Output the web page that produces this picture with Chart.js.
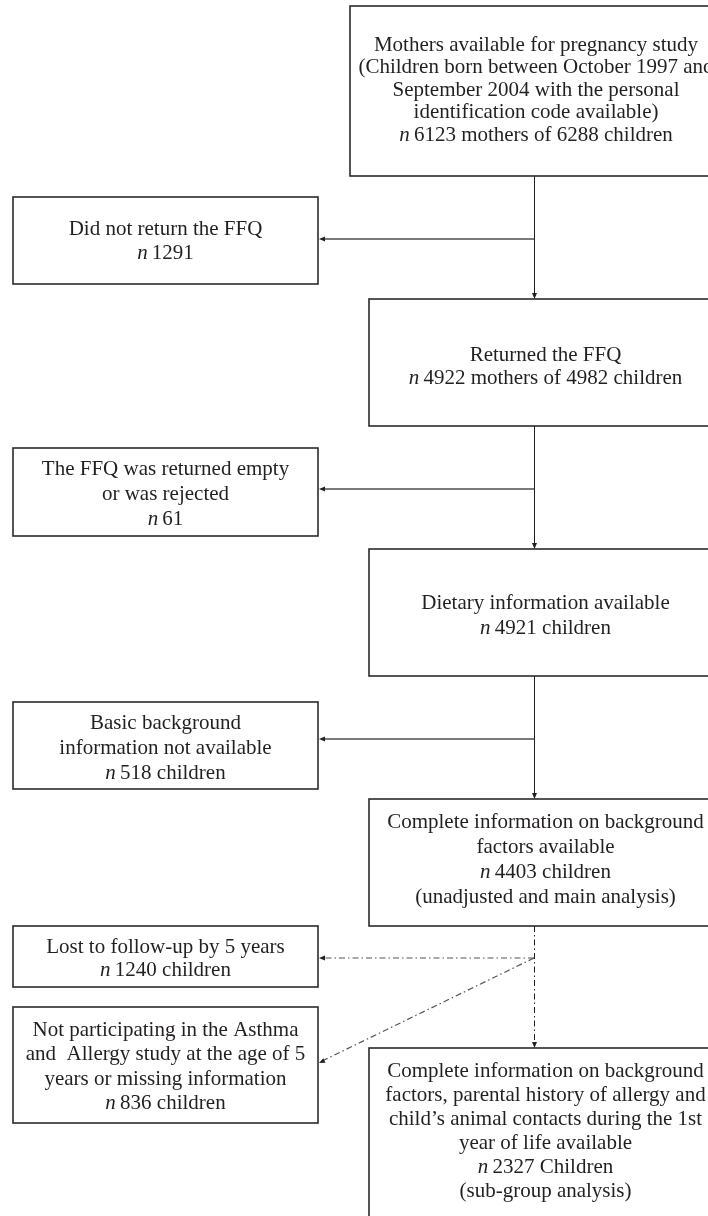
<!DOCTYPE html>
<html>
<head>
<meta charset="utf-8">
<script src="https://cdn.jsdelivr.net/npm/chart.js@4/dist/chart.umd.min.js"></script>
<style>
    html, body { margin: 0; padding: 0; background: #ffffff; }
    #flowChart { display: block; }
</style>
</head>
<body>
<canvas id="flowChart" width="708" height="1216"></canvas>
<script>
// flow steps (main column, top to bottom)
const mainTitles = [
    ['Mothers available for pregnancy study', '(Children born between October 1997 and', 'September 2004 with the personal', 'identification code available)'],
    ['Returned the FFQ'],
    ['Dietary information available'],
    ['Complete information on background', 'factors available'],
    ['Complete information on background', 'factors, parental history of allergy and', 'child\u2019s animal contacts during the 1st', 'year of life available']
];
const mainCounts = ['6123 mothers of 6288 children', '4922 mothers of 4982 children', '4921 children', '4403 children', '2327 Children'];
const mainNotes = ['', '', '', '(unadjusted and main analysis)', '(sub-group analysis)'];

// exclusions (left column)
const sideTitles = [
    ['Did not return the FFQ'],
    ['The FFQ was returned empty', 'or was rejected'],
    ['Basic background', 'information not available'],
    ['Lost to follow-up by 5 years'],
    ['Not participating in the Asthma', 'and  Allergy study at the age of 5', 'years or missing information']
];
const sideCounts = ['1291', '61', '518 children', '1240 children', '836 children'];

// layout, in axis units (x 0-708, y 0-1216 downwards)
const mainBoxes = [[350, 6, 722, 176], [369, 299, 722, 426], [369, 549, 722, 676], [369, 799, 722, 926], [369, 1048, 722, 1240]];
const mainTextY = [45, 355, 603, 822, 1071];
const mainGap = [22.5, 23, 25, 25, 24];
const sideBoxes = [[13, 197, 318, 284], [13, 448, 318, 536], [13, 702, 318, 789], [13, 926, 318, 987], [13, 1007, 318, 1123]];
const sideTextY = [229, 469, 723, 947, 1030];
const sideGap = [24, 25, 25, 23, 24.5];
const stemX = 534;
const branchY = [239, 489, 739, 958, 958];
const branchEndY = [239, 489, 739, 958, 1063];

const ink = '#231f20';
const font = '21px "Liberation Serif", "Times New Roman", serif';
const italicFont = 'italic 21px "Liberation Serif", "Times New Roman", serif';

function arrowHead(ctx, x, y, dx, dy) {
    const len = 6, half = 2.5;
    const n = Math.hypot(dx, dy);
    const ux = dx / n, uy = dy / n;
    ctx.beginPath();
    ctx.moveTo(x, y);
    ctx.lineTo(x - ux * len - uy * half, y - uy * len + ux * half);
    ctx.lineTo(x - ux * len + uy * half, y - uy * len - ux * half);
    ctx.closePath();
    ctx.fill();
}

function drawText(ctx, lines, count, note, cx, y0, gap) {
    ctx.fillStyle = ink;
    ctx.textBaseline = 'middle';
    let y = y0;
    lines.forEach(line => {
        ctx.font = font;
        ctx.textAlign = 'center';
        ctx.fillText(line, cx, y);
        y += gap;
    });
    // "n" in italics followed by the count
    ctx.font = italicFont;
    const nW = ctx.measureText('n').width;
    ctx.font = font;
    const rest = '\u2009' + count;
    const rW = ctx.measureText(rest).width;
    const left = cx - (nW + rW) / 2;
    ctx.textAlign = 'left';
    ctx.font = italicFont;
    ctx.fillText('n', left, y);
    ctx.font = font;
    ctx.fillText(rest, left + nW, y);
    y += gap;
    if (note) {
        ctx.textAlign = 'center';
        ctx.fillText(note, cx, y);
    }
}

const flowPlugin = {
    id: 'flow',
    afterDraw(chart) {
        const ctx = chart.ctx;
        const xs = chart.scales.x, ys = chart.scales.y;
        const px = v => xs.getPixelForValue(v);
        const py = v => ys.getPixelForValue(v);
        ctx.save();

        // vertical connectors between main boxes
        for (let i = 0; i < mainBoxes.length - 1; i++) {
            const y1 = py(mainBoxes[i][3]), y2 = py(mainBoxes[i + 1][1]);
            ctx.strokeStyle = ink;
            ctx.fillStyle = ink;
            ctx.lineWidth = 1;
            ctx.setLineDash(i === 3 ? [6, 3, 1.5, 3] : []);
            ctx.beginPath();
            ctx.moveTo(px(stemX) + 0.5, y1);
            ctx.lineTo(px(stemX) + 0.5, y2 - 5);
            ctx.stroke();
            ctx.setLineDash([]);
            arrowHead(ctx, px(stemX) + 0.5, y2, 0, 1);
        }

        // branches to exclusion boxes
        sideBoxes.forEach((b, i) => {
            const dashed = i >= 3;
            const x1 = px(stemX), y1 = py(branchY[i]);
            const x2 = px(b[2]), y2 = py(branchEndY[i]);
            ctx.strokeStyle = dashed ? '#555555' : '#7a7a7a';
            ctx.fillStyle = ink;
            ctx.lineWidth = dashed ? 1.2 : 1.8;
            ctx.setLineDash(dashed ? [6, 3, 1.5, 3] : []);
            const n = Math.hypot(x2 - x1, y2 - y1);
            ctx.beginPath();
            ctx.moveTo(x1, y1);
            ctx.lineTo(x2 + (x1 - x2) / n * 5, y2 + (y1 - y2) / n * 5);
            ctx.stroke();
            ctx.setLineDash([]);
            arrowHead(ctx, x2 + 1, y2, x2 - x1, y2 - y1);
        });

        // boxes
        ctx.strokeStyle = '#2b2b2b';
        ctx.lineWidth = 1.6;
        mainBoxes.forEach(b => {
            ctx.strokeRect(px(b[0]), py(b[1]), px(b[2]) - px(b[0]), py(b[3]) - py(b[1]));
        });
        sideBoxes.forEach(b => {
            ctx.strokeRect(px(b[0]), py(b[1]), px(b[2]) - px(b[0]), py(b[3]) - py(b[1]));
        });

        // texts
        mainBoxes.forEach((b, i) => {
            drawText(ctx, mainTitles[i], mainCounts[i], mainNotes[i], (px(b[0]) + px(b[2])) / 2, py(mainTextY[i]), mainGap[i]);
        });
        sideBoxes.forEach((b, i) => {
            drawText(ctx, sideTitles[i], sideCounts[i], '', (px(b[0]) + px(b[2])) / 2, py(sideTextY[i]), sideGap[i]);
        });
        ctx.restore();
    }
};

new Chart(document.getElementById('flowChart').getContext('2d'), {
    type: 'scatter',
    data: {
        datasets: [{
            label: 'steps',
            data: mainBoxes.concat(sideBoxes).map(b => ({ x: (b[0] + b[2]) / 2, y: (b[1] + b[3]) / 2 })),
            pointRadius: 0
        }]
    },
    options: {
        responsive: false,
        animation: false,
        layout: { padding: 0 },
        plugins: {
            legend: { display: false },
            tooltip: { enabled: false }
        },
        scales: {
            x: { type: 'linear', min: 0, max: 708, display: false },
            y: { type: 'linear', min: 0, max: 1216, reverse: true, display: false }
        }
    },
    plugins: [flowPlugin]
});
</script>
</body>
</html>
